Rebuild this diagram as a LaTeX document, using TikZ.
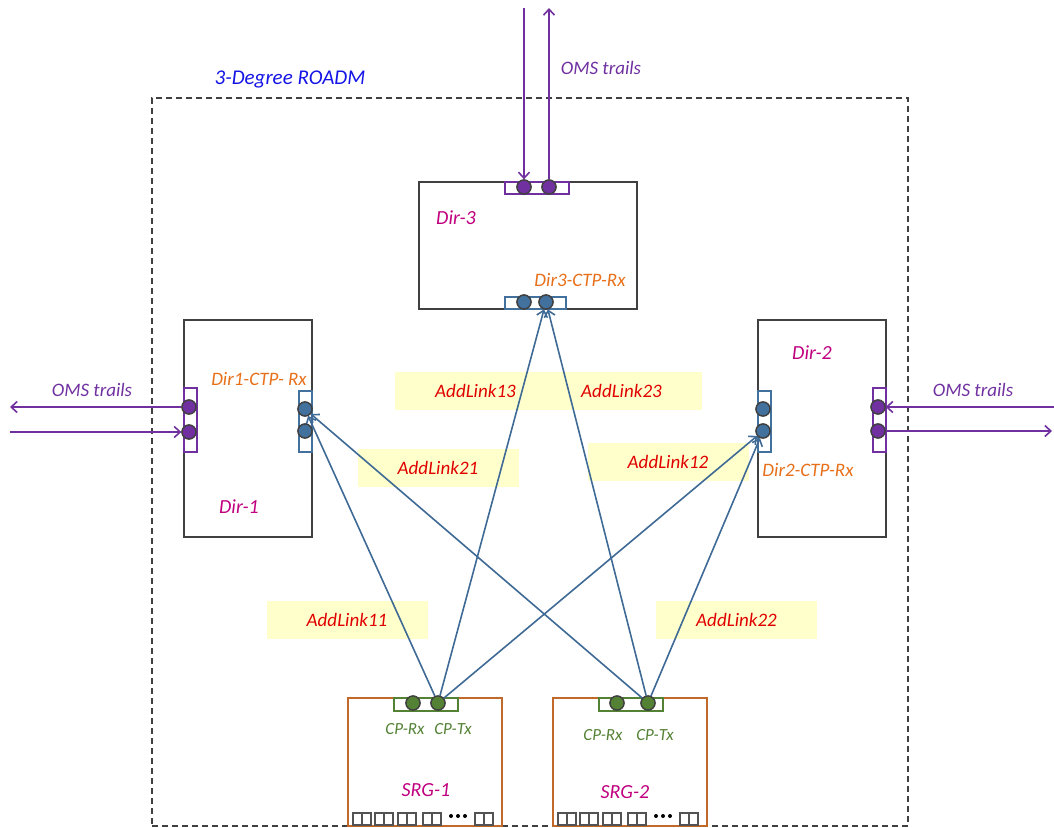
\documentclass[tikz,border=0pt]{standalone}
\usepackage{fontspec}
\setmainfont{Carlito}
\usetikzlibrary{arrows.meta}

\definecolor{frame}{HTML}{404040}
\definecolor{omsviolet}{HTML}{7030A0}
\definecolor{ctpblue}{HTML}{41719C}
\definecolor{linkblue}{HTML}{3F6A95}
\definecolor{cpgreen}{HTML}{548235}
\definecolor{srgbrown}{HTML}{C0692A}
\definecolor{dirmagenta}{HTML}{C0007F}
\definecolor{ctporange}{HTML}{E8701A}
\definecolor{linkred}{HTML}{E00000}
\definecolor{labelyellow}{HTML}{FFFFCC}
\definecolor{titleblue}{HTML}{1414E6}

\tikzset{
  txt/.style={font=\fontsize{19}{22}\selectfont\itshape, inner sep=0pt},
  boxcorner/.style={anchor=north west, inner sep=0pt},
  dirbox/.style={boxcorner, draw=frame, line width=1.7pt, fill=white},
  srgbox/.style={boxcorner, draw=srgbrown, line width=1.7pt, fill=white},
  omsport/.style={boxcorner, draw=omsviolet, line width=1.7pt, fill=white},
  ctpport/.style={boxcorner, draw=ctpblue, line width=1.7pt, fill=white},
  cpport/.style={boxcorner, draw=cpgreen, line width=1.7pt, fill=white},
  portdot/.style={circle, minimum size=14pt, inner sep=0pt, draw=frame, line width=1.3pt},
  omsdot/.style={portdot, fill=omsviolet},
  ctpdot/.style={portdot, fill=ctpblue},
  cpdot/.style={portdot, fill=cpgreen},
  omsarrow/.style={draw=omsviolet, line width=1.6pt, -{Straight Barb[length=6pt,width=11pt]}},
  addlink/.style={draw=linkblue, line width=1.6pt, -{Straight Barb[length=6pt,width=11pt]}},
  linkbox/.style={txt, fill=labelyellow, text=linkred, minimum width=161pt, minimum height=38pt},
  dirname/.style={txt, text=dirmagenta, font=\fontsize{20}{24}\selectfont\itshape},
  ctpname/.style={txt, text=ctporange},
  omsname/.style={txt, text=omsviolet},
  cpname/.style={txt, text=cpgreen, font=\fontsize{17}{20}\selectfont\itshape},
  clientport/.style={draw=frame!90, line width=1.8pt},
}

\begin{document}
\begin{tikzpicture}[x=1pt,y=-1pt]
\useasboundingbox (0,0) rectangle (1054,827);

% link labels on yellow bands
\node[linkbox] (lb13) at (475.5,390.5) {AddLink13};
\node[linkbox] (lb23) at (621.5,390.5) {AddLink23};
\node[linkbox] (lb21) at (438,468) {AddLink21};
\node[linkbox] (lb12) at (668,461.5) {AddLink12};
\node[linkbox] (lb11) at (347,620) {AddLink11};
\node[linkbox] (lb22) at (736.5,620) {AddLink22};

% node boundary
\node[boxcorner, draw=frame, line width=1.5pt, dash pattern=on 6pt off 4pt,
      minimum width=756pt, minimum height=728pt] (roadm) at (151,97) {};
\node[txt, text=titleblue, font=\fontsize{21}{25}\selectfont\itshape] (title) at (290,79) {3-Degree ROADM};

% degrees
\node[dirbox, minimum width=218pt, minimum height=127pt] (dir3) at (418,181) {};
\node[dirbox, minimum width=128pt, minimum height=217pt] (dir1) at (183,319) {};
\node[dirbox, minimum width=128pt, minimum height=217pt] (dir2) at (757,319) {};

% add/drop groups
\node[srgbox, minimum width=154pt, minimum height=128pt] (srg1) at (347,697) {};
\node[srgbox, minimum width=154pt, minimum height=128pt] (srg2) at (552,697) {};

% port frames
\node[omsport, minimum width=64pt, minimum height=12pt] (p3oms) at (504,181) {};
\node[ctpport, minimum width=61pt, minimum height=12pt] (p3ctp) at (504,296) {};
\node[omsport, minimum width=13pt, minimum height=64pt] (p1oms) at (183,387) {};
\node[ctpport, minimum width=13pt, minimum height=61pt] (p1ctp) at (298,390) {};
\node[ctpport, minimum width=13pt, minimum height=61pt] (p2ctp) at (757,390) {};
\node[omsport, minimum width=13pt, minimum height=64pt] (p2oms) at (872,387) {};
\node[cpport, minimum width=64pt, minimum height=13pt] (s1cp) at (393,697) {};
\node[cpport, minimum width=64pt, minimum height=13pt] (s2cp) at (598,697) {};

% client ports along the bottom of each SRG
\foreach \g in {347,552} {
  \foreach \o in {6,28,51,76,128} {
    \draw[clientport] (\g+\o,813) rectangle (\g+\o+18,825);
    \draw[clientport] (\g+\o+9,813) -- (\g+\o+9,825);
  }
  \foreach \o in {104,111,118}
    \fill[black] (\g+\o,816) circle (2pt);
}

% port dots
\node[omsdot] (d3a) at (524,187) {};
\node[omsdot] (d3b) at (549,187) {};
\node[ctpdot] (d3rxa) at (524,302) {};
\node[ctpdot] (d3rxb) at (546,302) {};
\node[omsdot] (d1a) at (189,407) {};
\node[omsdot] (d1b) at (189,432) {};
\node[ctpdot] (d1rxa) at (305,409) {};
\node[ctpdot] (d1rxb) at (305,431) {};
\node[ctpdot] (d2rxa) at (763,409) {};
\node[ctpdot] (d2rxb) at (763,431) {};
\node[omsdot] (d2a) at (878,407) {};
\node[omsdot] (d2b) at (878,431) {};
\node[cpdot] (s1rx) at (413,703) {};
\node[cpdot] (s1tx) at (438,703) {};
\node[cpdot] (s2rx) at (617,703) {};
\node[cpdot] (s2tx) at (648,703) {};

% add links from the SRG transmit ports
\draw[addlink] (s1tx) -- (d1rxa);
\draw[addlink] (s1tx) -- (d3rxb);
\draw[addlink] (s1tx) -- (d2rxb);
\draw[addlink] (s2tx) -- (d1rxa);
\draw[addlink] (s2tx) -- (d3rxb);
\draw[addlink] (s2tx) -- (d2rxb);

% OMS trails leaving the node
\coordinate (oms3in) at (524,8);
\coordinate (oms3out) at (549,8);
\coordinate (oms1out) at (10,407);
\coordinate (oms1in) at (10,432);
\coordinate (oms2in) at (1054,407);
\coordinate (oms2out) at (1052,431);
\draw[omsarrow] (oms3in) -- (d3a);
\draw[omsarrow] (d3b) -- (oms3out);
\draw[omsarrow] (d1a) -- (oms1out);
\draw[omsarrow] (oms1in) -- (d1b);
\draw[omsarrow] (oms2in) -- (d2a);
\draw[omsarrow] (d2b) -- (oms2out);

% redraw dots above the line ends
\foreach \d in {d3a,d3b,d1a,d1b,d2a,d2b} \node[omsdot] at (\d) {};
\foreach \d in {d3rxa,d3rxb,d1rxa,d1rxb,d2rxa,d2rxb} \node[ctpdot] at (\d) {};
\foreach \d in {s1rx,s1tx,s2rx,s2tx} \node[cpdot] at (\d) {};

% labels
\node[omsname] (t3) at (601,68) {OMS trails};
\node[omsname] (t1) at (92,390) {OMS trails};
\node[omsname] (t2) at (973,390) {OMS trails};
\node[dirname] (n3) at (456,218) {Dir-3};
\node[dirname] (n1) at (239,507) {Dir-1};
\node[dirname] (n2) at (812,353) {Dir-2};
\node[ctpname] (c3) at (580,280) {Dir3-CTP-Rx};
\node[ctpname] (c1) at (259,379) {Dir1-CTP- Rx};
\node[ctpname] (c2) at (808,470) {Dir2-CTP-Rx};
\node[cpname] (r1) at (405,729) {CP-Rx};
\node[cpname] (x1) at (453,729) {CP-Tx};
\node[cpname] (r2) at (603,735) {CP-Rx};
\node[cpname] (x2) at (655,735) {CP-Tx};
\node[dirname] (g1) at (426,790) {SRG-1};
\node[dirname] (g2) at (625,792) {SRG-2};
\end{tikzpicture}
\end{document}
